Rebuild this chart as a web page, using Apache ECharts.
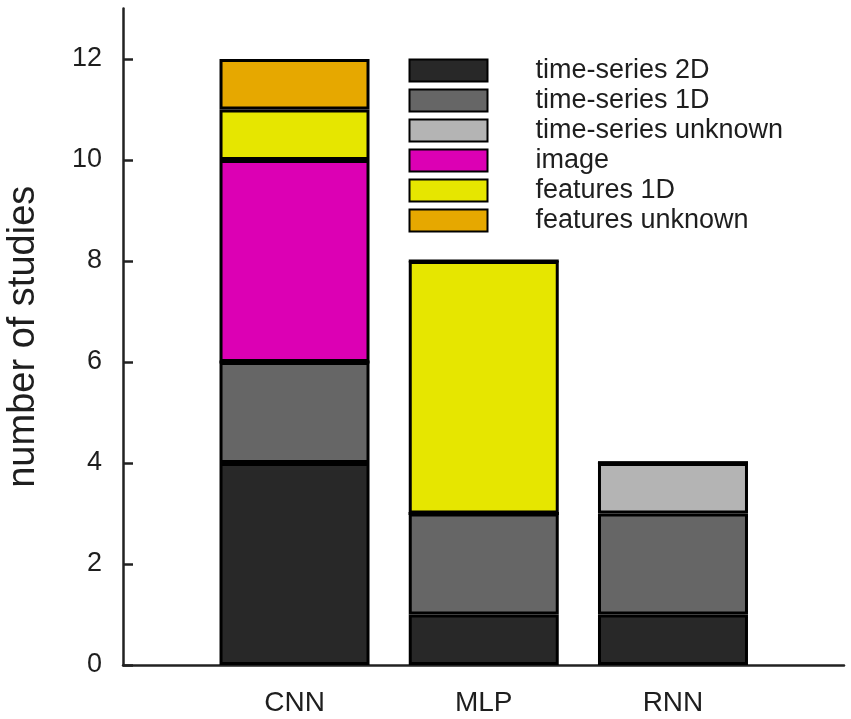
<!DOCTYPE html>
<html>
<head>
<meta charset="utf-8">
<script src="https://cdn.jsdelivr.net/npm/echarts@6/dist/echarts.min.js"></script>
<style>
html,body{margin:0;padding:0;background:#fff;}
#chart{width:851px;height:719px;}
</style>
</head>
<body>
<div id="chart"></div>
<script>
const categories = ['CNN', 'MLP', 'RNN'];
const seriesNames = ['time-series 2D', 'time-series 1D', 'time-series unknown', 'image', 'features 1D', 'features unknown'];
const ts2D = [4, 1, 1];
const ts1D = [2, 2, 2];
const tsUnknown = [0, 0, 1];
const image = [4, 0, 0];
const features1D = [1, 5, 0];
const featuresUnknown = [1, 0, 0];
const yTicks = [0, 2, 4, 6, 8, 10, 12];
const seriesColors = ['#282828', '#666666', '#b4b4b4', '#dc00b4', '#e6e600', '#e6a800'];

const allValues = [ts2D, ts1D, tsUnknown, image, features1D, featuresUnknown];
const FONT = 'Liberation Sans, Arial, sans-serif';
const TXT = '#1e1e1e';

const series = seriesNames.map((name, i) => ({
  name: name,
  type: 'bar',
  stack: 'total',
  xAxisIndex: 1,
  yAxisIndex: 1,
  barWidth: 150,
  data: allValues[i],
  itemStyle: { color: seriesColors[i], borderColor: '#000', borderWidth: 3 },
  emphasis: { disabled: true }
}));

const chart = echarts.init(document.getElementById('chart'), null, { renderer: 'canvas' });
chart.setOption({
  backgroundColor: '#fff',
  animation: false,
  grid: [
    { left: 123, right: 7, top: 8.5, bottom: 54, containLabel: false, outerBoundsMode: 'none' },
    { left: 199.9, right: 83.4, top: 8.5, bottom: 54, containLabel: false, outerBoundsMode: 'none' }
  ],
  xAxis: [
    {
      gridIndex: 0,
      type: 'value',
      min: 0,
      max: 1,
      splitLine: { show: false },
      axisLine: { show: true, onZero: false, lineStyle: { color: '#222', width: 2.5 } },
      axisTick: { show: false },
      axisLabel: { show: false }
    },
    {
      gridIndex: 1,
      type: 'category',
      data: categories,
      axisLine: { show: false },
      axisTick: { show: false },
      axisLabel: { color: TXT, fontFamily: FONT, fontSize: 28, margin: 24 }
    }
  ],
  yAxis: [
    {
      gridIndex: 0,
      type: 'value',
      min: 0,
      max: 13,
      interval: 2,
      name: 'number of studies',
      nameLocation: 'middle',
      nameGap: 80,
      nameTextStyle: { color: TXT, fontFamily: FONT, fontSize: 38 },
      splitLine: { show: false },
      axisLine: { show: true, lineStyle: { color: '#222', width: 2.5 } },
      axisTick: { show: true, inside: true, length: 10, customValues: yTicks, lineStyle: { color: '#222', width: 2.5 } },
      axisLabel: { customValues: yTicks, color: TXT, fontFamily: FONT, fontSize: 27, margin: 21 }
    },
    {
      gridIndex: 1,
      type: 'value',
      min: 0,
      max: 13,
      show: false
    }
  ],
  legend: {
    orient: 'vertical',
    left: 408.5,
    top: 57,
    padding: 0,
    itemWidth: 78,
    itemHeight: 22,
    itemGap: 3,
    icon: 'rect',
    data: seriesNames,
    textStyle: { color: TXT, fontFamily: FONT, fontSize: 27, padding: [0, 0, 0, 43] }
  },
  series: series
});
</script>
</body>
</html>
